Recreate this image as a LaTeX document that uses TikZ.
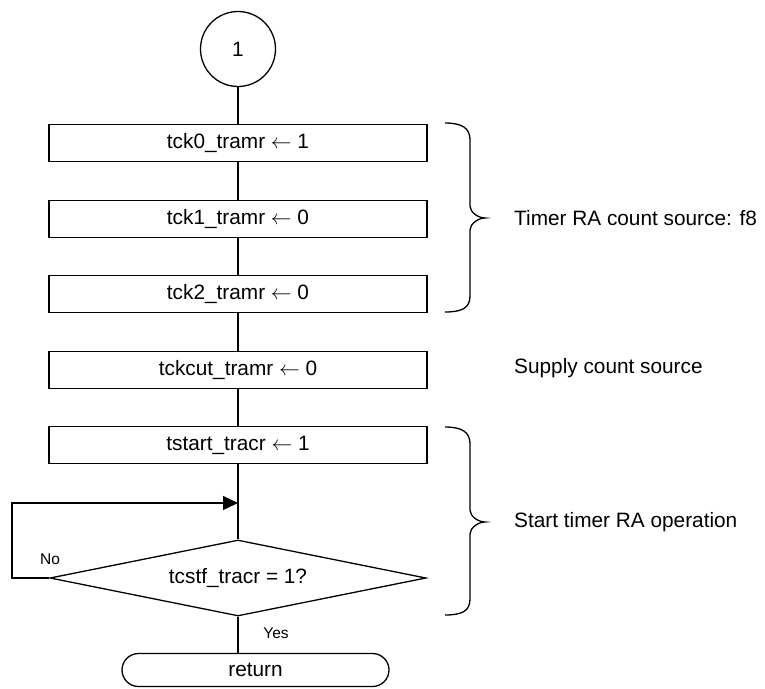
\documentclass[tikz,border=0pt]{standalone}
\usepackage{fontspec}
\setmainfont{Liberation Sans}
\usetikzlibrary{shapes.geometric,shapes.misc,arrows.meta}
\begin{document}
\begin{tikzpicture}[x=1pt,y=-1pt,
  every node/.style={font=\fontsize{20.8}{24}\selectfont},
  proc/.style={draw,line width=1.3pt,minimum width=378pt,minimum height=37pt,inner sep=0pt},
  conn/.style={draw,circle,line width=1.3pt,minimum size=75pt,inner sep=0pt},
  dec/.style={draw,diamond,line width=1.3pt,minimum width=376pt,minimum height=76pt,aspect=4.95,inner sep=0pt},
  term/.style={draw,rounded rectangle,line width=1.3pt,minimum width=267pt,minimum height=33pt,inner sep=0pt},
  line/.style={line width=1.3pt},
  note/.style={anchor=west,inner sep=0pt},
  small/.style={font=\fontsize{15.5}{18}\selectfont,inner sep=0pt},
  brace/.style={line width=1.3pt}]
\useasboundingbox (0,0) rectangle (765,688);
\node[conn] (c1) at (238,49) {1};
\node[proc] (b1) at (238,143) {tck0\_tramr $\leftarrow$ 1};
\node[proc] (b2) at (238,219) {tck1\_tramr $\leftarrow$ 0};
\node[proc] (b3) at (238,294) {tck2\_tramr $\leftarrow$ 0};
\node[proc] (b4) at (238,370) {tckcut\_tramr $\leftarrow$ 0};
\node[proc] (b5) at (238,445) {tstart\_tracr $\leftarrow$ 1};
\node[dec] (d1) at (238,578) {tcstf\_tracr = 1?};
\node[term] (r1) at (255.5,670) {return};
\coordinate (m1) at (238,503);
\coordinate (l1) at (12,578);
\coordinate (l2) at (12,503);
\draw[line] (c1) -- (b1);
\draw[line] (b1) -- (b2);
\draw[line] (b2) -- (b3);
\draw[line] (b3) -- (b4);
\draw[line] (b4) -- (b5);
\draw[line] (b5) -- (d1);
\draw[line] (d1.south) -- (d1.south |- r1.north);
\draw[line,-{Triangle[length=15pt,width=14pt]}] (d1.west) -- (l1) -- (l2) -- (m1);
\node[small] (no) at (50,559) {No};
\node[small] (yes) at (276,633) {Yes};
\draw[brace] (445,123) .. controls (462,123) and (470,128) .. (470,140) -- (470,206) .. controls (470,212) and (478,218) .. (485,218) .. controls (478,218) and (470,224) .. (470,230) -- (470,296) .. controls (470,308) and (462,312) .. (445,312);
\draw[brace] (445,427) .. controls (462,427) and (470,432) .. (470,444) -- (470,510) .. controls (470,516) and (478,522) .. (485,522) .. controls (478,522) and (470,528) .. (470,534) -- (470,599) .. controls (470,611) and (462,615) .. (445,615);
\node[note] (t1) at (514,218) {Timer RA count source: f8};
\node[note] (t2) at (514,368) {Supply count source};
\node[note] (t3) at (514,522) {Start timer RA operation};
\end{tikzpicture}
\end{document}
